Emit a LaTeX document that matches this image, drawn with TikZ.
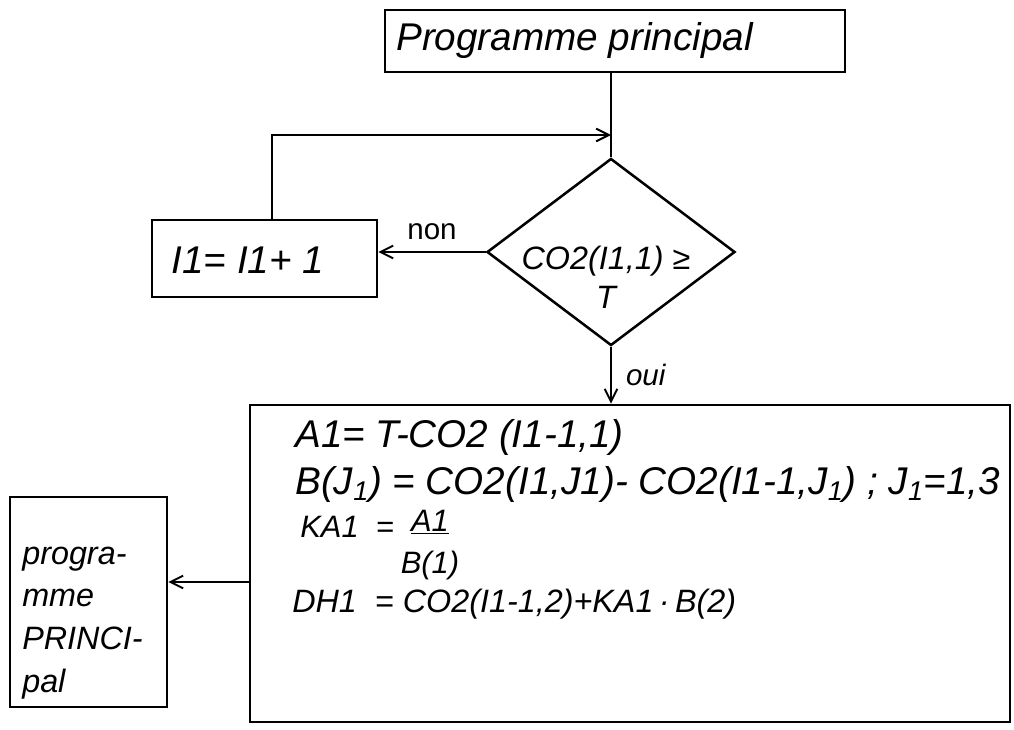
\documentclass[tikz,border=0pt]{standalone}
\usepackage{fontspec}
\setmainfont{Liberation Sans}
\usetikzlibrary{shapes.geometric,arrows.meta}
\begin{document}
\begin{tikzpicture}[x=0.025cm,y=-0.025cm,
  box/.style={draw,line width=1.8pt,inner sep=0pt},
  hand/.style={font=\fontsize{27.5}{32}\selectfont\itshape,inner sep=0pt},
  small/.style={font=\fontsize{22}{26}\selectfont\itshape,inner sep=0pt},
  lbl/.style={font=\fontsize{21}{24}\selectfont,inner sep=2pt},
  conn/.style={line width=1.4pt},
  arr/.style={conn,-{Straight Barb[length=9pt,width=9pt]}}]
\useasboundingbox[fill=white] (0,0) rectangle (1014,730);
% boxes
\node[box,minimum width=11.5cm,minimum height=1.55cm] (top) at (615,41) {};
\node[hand,anchor=west] (toptext) at (396,41) {Programme principal};
\node[box,draw,diamond,minimum width=6.2cm,minimum height=4.675cm] (dec) at (611,252) {};
\node[hand,align=center,font=\fontsize{23}{28}\selectfont\itshape] (dectext) at (606,277) {CO2(I1,1) ≥\\T};
\node[box,minimum width=5.625cm,minimum height=1.925cm] (inc) at (264.5,258.5) {};
\node[hand] (inctext) at (248,260) {I1= I1+ 1};
\node[box,minimum width=19cm,minimum height=7.925cm] (big) at (630,563.5) {};
\node[box,minimum width=3.925cm,minimum height=5.25cm] (left) at (88.5,602) {};
\node[hand,align=left,font=\fontsize{23}{30.5}\selectfont\itshape,anchor=west] (lefttext) at (22,623) {progra-\\mme\\PRINCI-\\pal};
% big box text
\node[hand,anchor=west] (l1) at (295,437) {A1= T-CO2 (I1-1,1)};
\node[hand,anchor=west] (l2) at (295,484) {B(J\textsubscript{1}) = CO2(I1,J1)- CO2(I1-1,J\textsubscript{1}) ; J\textsubscript{1}=1,3};
\node[small,anchor=west] (l3) at (300,527) {KA1 \ =};
\node[small,align=center,font=\fontsize{22}{30}\selectfont\itshape] (frac) at (430,545) {\underline{A1}\\B(1)};
\node[small,anchor=west,font=\fontsize{23}{26}\selectfont\itshape] (l4) at (292,604) {DH1 \ = CO2(I1-1,2)+KA1\,·\,B(2)};
% connectors
\coordinate (join) at (611,135);
\draw[conn] (top.south -| dec.north) -- (dec.north);
\draw[arr] ([xshift=0.19cm]inc.north) |- (join);
\draw[arr] (dec.west) -- (dec.west -| inc.east) node[lbl,midway,above=6pt] (non) {non};
\draw[arr] (dec.south) -- (dec.south |- big.north) node[lbl,midway,right=8pt,font=\fontsize{21}{24}\selectfont\itshape] (oui) {oui};
\coordinate (ax) at (250,582);
\draw[arr] (ax) -- (ax -| left.east);
\end{tikzpicture}
\end{document}
